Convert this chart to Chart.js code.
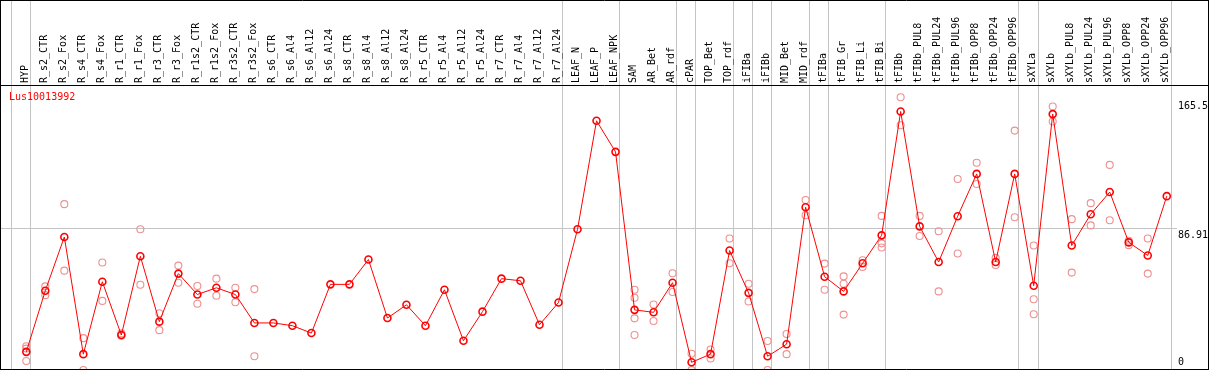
<!DOCTYPE html>
<html><head><meta charset="utf-8">
<script src="https://cdn.jsdelivr.net/npm/chart.js@4/dist/chart.umd.min.js"></script>
<style>html,body{margin:0;padding:0;background:#fff}canvas{display:block}</style>
</head><body>
<canvas id="c" width="1209" height="370"></canvas>
<script>
const title = "Lus10013992";
const categories = ["HYP","R_s2_CTR","R_s2_Fox","R_s4_CTR","R_s4_Fox","R_r1_CTR","R_r1_Fox","R_r3_CTR","R_r3_Fox","R_r1s2_CTR","R_r1s2_Fox","R_r3s2_CTR","R_r3s2_Fox","R_s6_CTR","R_s6_Al4","R_s6_Al12","R_s6_Al24","R_s8_CTR","R_s8_Al4","R_s8_Al12","R_s8_Al24","R_r5_CTR","R_r5_Al4","R_r5_Al12","R_r5_Al24","R_r7_CTR","R_r7_Al4","R_r7_Al12","R_r7_Al24","LEAF_N","LEAF_P","LEAF_NPK","SAM","AR_Bet","AR_rdf","cPAR","TOP_Bet","TOP_rdf","iFIBa","iFIBb","MID_Bet","MID_rdf","tFIBa","tFIB_Gr","tFIB_Li","tFIB_Bi","tFIBb","tFIBb_PUL8","tFIBb_PUL24","tFIBb_PUL96","tFIBb_OPP8","tFIBb_OPP24","tFIBb_OPP96","sXYLa","sXYLb","sXYLb_PUL8","sXYLb_PUL24","sXYLb_PUL96","sXYLb_OPP8","sXYLb_OPP24","sXYLb_OPP96"];
const means = [11.1,48.5,81.4,9.7,54.0,21.4,69.6,29.6,59.0,46.2,50.3,46.2,28.8,28.8,27.1,22.6,52.4,52.4,67.6,31.8,39.9,27.1,49.1,17.9,35.7,55.9,54.6,27.7,41.3,86.1,152.5,133.5,36.8,35.3,53.4,4.7,9.7,73.1,47.2,8.4,15.8,99.6,57.1,48.1,65.3,82.4,158.2,87.9,66.1,94.1,120.0,66.1,120.0,51.6,156.6,76.2,95.3,108.9,78.1,70.1,106.4];
const replicates = [
 [13.1,5.5,14.5],[51.2,45.8],[101.5,60.8],[19.5,0],[65.8,42.3],[22.4,21.0],[86.1,52.2],[34.7,24.4],[63.9,53.4],[51.4,40.5],
 [55.9,45.4],[50.3,41.5],[49.5,8.4],[],[],[],[],[],[],[],
 [],[],[],[],[],[],[],[],[],[],
 [],[],[49.1,44.2,31.6,21.4],[40.1,30.0],[59.2,47.7],[9.9,0],[12.5,7.0],[80.5,65.3],[52.8,41.9],[17.7,0],
 [22.0,9.7],[104.0,94.7],[65.1,49.1],[57.3,52.8,33.9],[67.2,63.1],[94.3,77.5,75.0],[166.9,149.8],[94.3,82.0],[84.9,48.1],[116.9,71.3],
 [126.8,113.8],[68.6,64.3],[146.5,93.5],[76.2,43.3,34.1],[161.3,152.1],[92.3,59.6],[102.1,88.5],[125.5,91.6],[79.1,76.4],[80.5,59.0],
 []
];
const yTicks = [0, 86.91, 165.5];
const groupStarts = [0,1,29,32,35,36,38,39,40,42,43,46,53,54,61];

const FONT = '10px "DejaVu Sans Mono", monospace';

const decor = {
  id: 'decor',
  beforeDatasetsDraw(chart) {
    const {ctx, scales: {x, y}, chartArea: a} = chart;
    ctx.save();
    ctx.strokeStyle = '#c4c4c4';
    ctx.lineWidth = 1;
    groupStarts.forEach(g => {
      const px = Math.round(x.getPixelForValue(g - 0.8)) + 0.5;
      ctx.beginPath(); ctx.moveTo(px, 0); ctx.lineTo(px, a.bottom); ctx.stroke();
    });
    const gy = Math.round(y.getPixelForValue(yTicks[1])) + 0.5;
    ctx.beginPath(); ctx.moveTo(a.left, gy); ctx.lineTo(a.right - 31, gy); ctx.stroke();
    ctx.restore();
  },
  afterDatasetsDraw(chart) {
    const {ctx, scales: {x, y}, chartArea: a} = chart;
    ctx.save();
    ctx.strokeStyle = '#000';
    ctx.lineWidth = 1;
    ctx.beginPath();
    ctx.moveTo(0, 0.5); ctx.lineTo(chart.width, 0.5);
    ctx.moveTo(0, a.top - 0.5); ctx.lineTo(chart.width, a.top - 0.5);
    ctx.moveTo(0, a.bottom + 0.5); ctx.lineTo(chart.width, a.bottom + 0.5);
    ctx.moveTo(0.5, 0); ctx.lineTo(0.5, chart.height);
    ctx.moveTo(chart.width - 0.5, 0); ctx.lineTo(chart.width - 0.5, chart.height);
    ctx.stroke();
    ctx.font = FONT;
    ctx.fillStyle = '#000';
    ctx.textAlign = 'left';
    ctx.textBaseline = 'middle';
    categories.forEach((c, i) => {
      const px = x.getPixelForValue(i) - 1;
      ctx.save();
      ctx.translate(px, a.top - 3);
      ctx.rotate(-Math.PI / 2);
      ctx.fillText(c, 0, 0);
      ctx.restore();
    });
    ctx.textBaseline = 'top';
    yTicks.forEach(v => {
      let py = y.getPixelForValue(v) + 2;
      py = Math.min(py, a.bottom - 12);
      ctx.fillText(String(v), a.right - 30, py);
    });
    ctx.fillStyle = '#ff0000';
    ctx.textBaseline = 'middle';
    ctx.fillText(title, 9, a.top + 11);
    ctx.restore();
  }
};

new Chart(document.getElementById('c'), {
  type: 'scatter',
  data: {
    datasets: [
      {
        label: 'mean',
        data: means.map((v, i) => ({x: i, y: v})),
        showLine: true,
        borderColor: '#ff0000',
        borderWidth: 1,
        pointRadius: 3.5,
        pointBorderWidth: 1.6,
        pointBorderColor: '#ff0000',
        pointBackgroundColor: 'rgba(0,0,0,0)',
        clip: 0
      },
      {
        label: 'replicates',
        data: replicates.flatMap((r, i) => r.map(v => ({x: i, y: v}))),
        showLine: false,
        pointRadius: 3.5,
        pointBorderWidth: 1.1,
        pointBorderColor: '#ee9090',
        pointBackgroundColor: 'rgba(0,0,0,0)',
        clip: 0
      }
    ]
  },
  options: {
    responsive: false,
    animation: false,
    devicePixelRatio: 1,
    layout: {autoPadding: false, padding: {top: 86, left: 1, right: 1, bottom: 1}},
    plugins: {legend: {display: false}, tooltip: {enabled: false}},
    scales: {
      x: {type: 'linear', display: false, min: -1.331, max: 62.17},
      y: {type: 'linear', display: false, min: 0.61, max: 173.8}
    }
  },
  plugins: [decor]
});
</script>
</body></html>
